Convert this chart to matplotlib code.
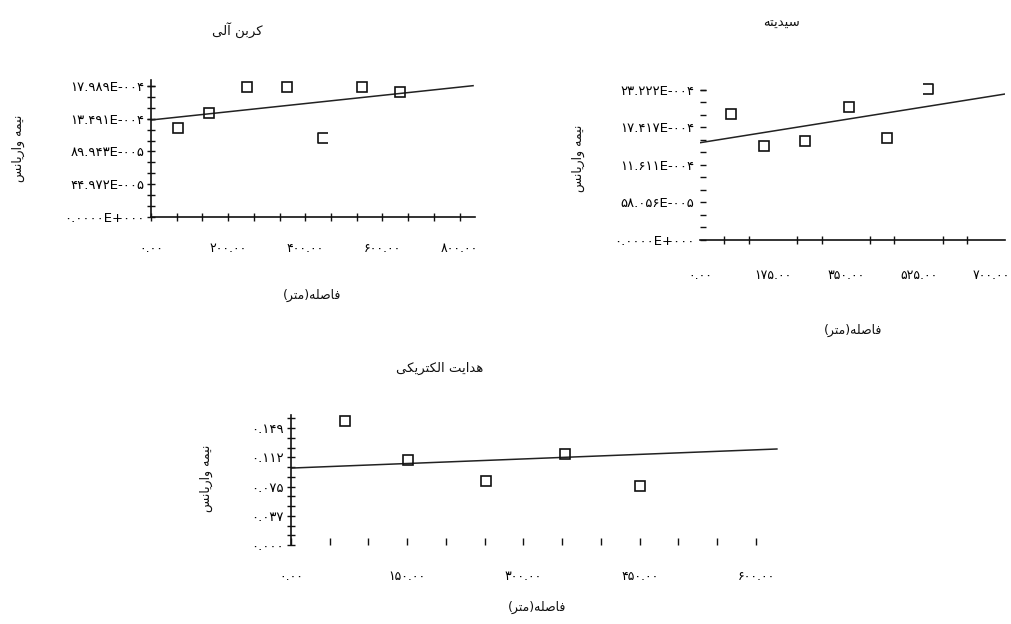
"""Semivariogram panels (organic carbon, acidity, electrical conductivity)."""
import matplotlib
matplotlib.use("Agg")
import matplotlib.pyplot as plt  # noqa: E402
import numpy as np  # noqa: E402
from matplotlib import font_manager, ft2font  # noqa: E402
from matplotlib.path import Path  # noqa: E402

W, H = 1011, 624
INK = "#111111"

# ---- data ----------------------------------------------------------------
# organic carbon
oc_lag = [70, 150, 250, 352, 447, 548, 646]
oc_gamma = [1.218e-3, 1.424e-3, 1.789e-3, 1.789e-3, 1.081e-3, 1.789e-3, 1.712e-3]
oc_fit_x = [0, 835]
oc_fit_y = [1.332e-3, 1.803e-3]
oc_yticks = [0, 4.4972e-4, 8.9943e-4, 1.3491e-3, 1.7989e-3]
oc_ylabels = ["۰.۰۰۰۰E+۰۰۰", "۴۴.۹۷۲E-۰۰۵", "۸۹.۹۴۳E-۰۰۵", "۱۳.۴۹۱E-۰۰۴", "۱۷.۹۸۹E-۰۰۴"]
oc_xticks = [0, 200, 400, 600, 800]
oc_xlabels = ["۰.۰۰", "۲۰۰.۰۰", "۴۰۰.۰۰", "۶۰۰.۰۰", "۸۰۰.۰۰"]

# acidity
ac_lag = [74, 154, 252, 358, 449, 548]
ac_gamma = [1.946e-3, 1.460e-3, 1.533e-3, 2.064e-3, 1.584e-3, 2.333e-3]
ac_fit_x = [0, 732]
ac_fit_y = [1.506e-3, 2.260e-3]
ac_yticks = [0, 5.8056e-4, 1.16111e-3, 1.74167e-3, 2.3222e-3]
ac_ylabels = ["۰.۰۰۰۰E+۰۰۰", "۵۸.۰۵۶E-۰۰۵", "۱۱.۶۱۱E-۰۰۴", "۱۷.۴۱۷E-۰۰۴", "۲۳.۲۲۲E-۰۰۴"]
ac_xticks = [0, 175, 350, 525, 700]
ac_xlabels = ["۰.۰۰", "۱۷۵.۰۰", "۳۵۰.۰۰", "۵۲۵.۰۰", "۷۰۰.۰۰"]

# electrical conductivity
ec_lag = [70, 151, 252, 353, 450]
ec_gamma = [0.158, 0.108, 0.0815, 0.116, 0.0751]
ec_fit_x = [0, 627]
ec_fit_y = [0.098, 0.1223]
ec_yticks = [0, 0.03725, 0.0745, 0.11175, 0.149]
ec_ylabels = ["۰.۰۰۰", "۰.۰۳۷", "۰.۰۷۵", "۰.۱۱۲", "۰.۱۴۹"]
ec_xticks = [0, 150, 300, 450, 600]
ec_xlabels = ["۰.۰۰", "۱۵۰.۰۰", "۳۰۰.۰۰", "۴۵۰.۰۰", "۶۰۰.۰۰"]

TITLES = ["کربن آلی", "سیدیته", "هدایت الکتریکی"]
XLABEL = "فاصله(متر)"
YLABEL = "نیمه واریانس"

# ---- minimal Persian shaping (matplotlib does no bidi / joining) ---------
_cmap = ft2font.FT2Font(font_manager.findfont("DejaVu Sans")).get_charmap()
FORMS = {
    "ا": (0xFE8D, 0xFE8E, None, None), "آ": (0xFE81, 0xFE82, None, None),
    "د": (0xFEA9, 0xFEAA, None, None), "ر": (0xFEAD, 0xFEAE, None, None),
    "و": (0xFEED, 0xFEEE, None, None),
    "ب": (0xFE8F, 0xFE90, 0xFE91, 0xFE92), "ت": (0xFE95, 0xFE96, 0xFE97, 0xFE98),
    "س": (0xFEB1, 0xFEB2, 0xFEB3, 0xFEB4), "ص": (0xFEB9, 0xFEBA, 0xFEBB, 0xFEBC),
    "ف": (0xFED1, 0xFED2, 0xFED3, 0xFED4), "ل": (0xFEDD, 0xFEDE, 0xFEDF, 0xFEE0),
    "م": (0xFEE1, 0xFEE2, 0xFEE3, 0xFEE4), "ن": (0xFEE5, 0xFEE6, 0xFEE7, 0xFEE8),
    "ه": (0xFEE9, 0xFEEA, 0xFEEB, 0xFEEC),
    "ی": (0xFBFC, 0xFBFD, 0xFBFE, 0xFBFF), "ک": (0xFB8E, 0xFB8F, 0xFB90, 0xFB91),
}
FALLBACK = {0xFBFC: 0xFEEF, 0xFBFD: 0xFEF0, 0xFBFE: 0xFEF3, 0xFBFF: 0xFEF4,
            0xFB8E: 0xFED9, 0xFB8F: 0xFEDA, 0xFB90: 0xFEDB, 0xFB91: 0xFEDC}


def fa(s):
    out = []
    for i, c in enumerate(s):
        if c not in FORMS:
            out.append(c)
            continue
        prev = s[i - 1] if i > 0 else ""
        nxt = s[i + 1] if i + 1 < len(s) else ""
        jp = prev in FORMS and FORMS[prev][2] is not None
        jn = FORMS[c][2] is not None and nxt in FORMS
        k = 3 if (jp and jn) else 1 if jp else 2 if jn else 0
        cp = FORMS[c][k]
        if cp not in _cmap:
            cp = FALLBACK.get(cp, cp)
        out.append(chr(cp))
    mirror = {"(": ")", ")": "("}
    return "".join(mirror.get(ch, ch) for ch in reversed(out))


# ---- figure ---------------------------------------------------------------
fig = plt.figure(figsize=(W / 100, H / 100), dpi=100)
plt.rcParams["font.family"] = ["DejaVu Sans"]

box_open_right = Path([(1, 1), (-1, 1), (-1, -1), (1, -1)],
                      [Path.MOVETO, Path.LINETO, Path.LINETO, Path.LINETO])
box_open_left = Path([(-1, 1), (1, 1), (1, -1), (-1, -1)],
                     [Path.MOVETO, Path.LINETO, Path.LINETO, Path.LINETO])


def px_axes(l, t, r, b):
    return fig.add_axes([l / W, 1 - b / H, (r - l) / W, (b - t) / H])


def ftext(x, y, s, **kw):
    fig.text(x / W, 1 - y / H, s, ha="center", va="center", color=INK, **kw)


def panel(ax, lag, gamma, fit_x, fit_y, xt, xl, yt, yl, xmax, ymax, broken, odd_marker):
    ax.plot(fit_x, fit_y, color="#222222", lw=1.1)
    for i, (x, y) in enumerate(zip(lag, gamma)):
        m = odd_marker if i == broken else "s"
        ax.plot([x], [y], ls="none", marker=m, ms=7.5, mfc="none", mec=INK, mew=1.2,
                clip_on=False)
    ax.set_xlim(0, xmax)
    ax.set_ylim(0, ymax)
    ax.set_xticks(xt)
    ax.set_xticklabels(xl, fontsize=9)
    ax.set_yticks(yt)
    ax.set_yticklabels(yl, fontsize=9.5)
    ax.set_xticks(np.arange(0, xmax, xt[1] / 3), minor=True)
    ax.set_yticks(np.arange(0, ymax, yt[1] / 3), minor=True)
    ax.spines[["top", "right"]].set_visible(False)
    for s in ax.spines.values():
        s.set_linewidth(1.2)
        s.set_color(INK)
    ax.patch.set_alpha(0)


# organic carbon
ax1 = px_axes(151, 80, 475, 217)
panel(ax1, oc_lag, oc_gamma, oc_fit_x, oc_fit_y, oc_xticks, oc_xlabels,
      oc_yticks, oc_ylabels, 840, 1.881e-3, 4, box_open_right)
ax1.tick_params(which="both", direction="inout", length=6, width=1, color=INK)
ax1.tick_params(axis="x", pad=15)
ax1.tick_params(axis="y", pad=2)

# acidity: tick marks drawn as minor ticks only (two are missing in the source)
ax2 = px_axes(700, 85, 1005, 240)
panel(ax2, ac_lag, ac_gamma, ac_fit_x, ac_fit_y, ac_xticks, ac_xlabels,
      ac_yticks, ac_ylabels, 732, 2.3996e-3, 5, box_open_left)
ax2.spines["left"].set_visible(False)
step = ac_xticks[1] / 3
ax2.set_xticks([step * k for k in range(1, 12) if k != 6], minor=True)
ax2.tick_params(axis="x", which="minor", direction="inout", length=6, width=1, color=INK)
ax2.tick_params(axis="x", which="major", length=0, pad=21)
ax2.tick_params(axis="y", which="both", direction="in", length=4, width=1, pad=4, color=INK)

# electrical conductivity
ax3 = px_axes(291, 415, 780, 545)
panel(ax3, ec_lag, ec_gamma, ec_fit_x, ec_fit_y, ec_xticks, ec_xlabels,
      ec_yticks, ec_ylabels, 631, 0.1656, None, None)
ax3.spines["bottom"].set_visible(False)
ax3.tick_params(axis="x", which="both", direction="in", length=5, width=1, pad=18, color=INK)
ax3.tick_params(axis="y", which="both", direction="inout", length=6, width=1, pad=2, color=INK)

# titles and axis labels
ftext(237, 30, fa(TITLES[0]), fontsize=9.5)
ftext(782, 23, fa(TITLES[1]), fontsize=9.5)
ftext(440, 368, fa(TITLES[2]), fontsize=9.5)
ftext(312, 295, fa(XLABEL), fontsize=9)
ftext(853, 330, fa(XLABEL), fontsize=9)
ftext(537, 607, fa(XLABEL), fontsize=9)
ftext(18, 148, fa(YLABEL), fontsize=9, rotation=90)
ftext(578, 158, fa(YLABEL), fontsize=9, rotation=90)
ftext(206, 478, fa(YLABEL), fontsize=9, rotation=90)

fig.savefig("out.png", dpi=100)
